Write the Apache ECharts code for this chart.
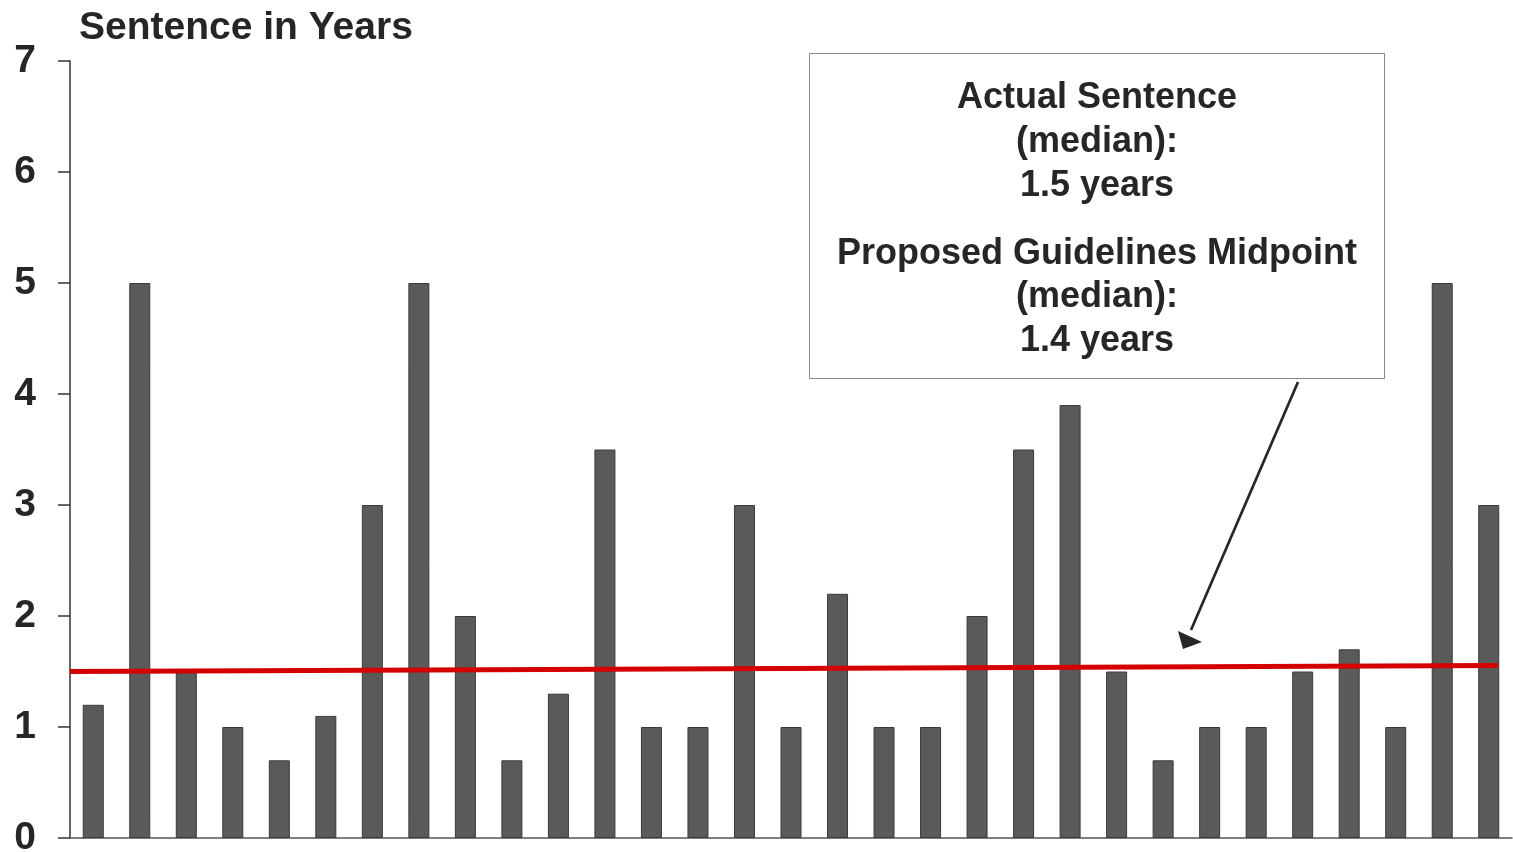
<!DOCTYPE html>
<html>
<head>
<meta charset="utf-8">
<script src="https://cdn.jsdelivr.net/npm/echarts@6/dist/echarts.min.js"></script>
<style>
html,body{margin:0;padding:0;background:#fff;}
#chart{width:1513px;height:852px;}
</style>
</head>
<body>
<div id="chart"></div>
<script>
// Data
const categories = ['1','2','3','4','5','6','7','8','9','10','11','12','13','14','15','16','17','18','19','20','21','22','23','24','25','26','27','28','29','30','31'];
const sentences = [1.2, 5, 1.5, 1, 0.7, 1.1, 3, 5, 2, 0.7, 1.3, 3.5, 1, 1, 3, 1, 2.2, 1, 1, 2, 3.5, 3.9, 1.5, 0.7, 1, 1, 1.5, 1.7, 1, 5, 3];
const guidelineLine = [[0, 1.5], [30.69, 1.555]];
const yTicks = [0, 1, 2, 3, 4, 5, 6, 7];
const boxText1 = ['Actual Sentence', '(median):', '1.5 years'];
const boxText2 = ['Proposed Guidelines Midpoint', '(median):', '1.4 years'];

const FONT = '"Liberation Sans", Arial, Helvetica, sans-serif';
const chart = echarts.init(document.getElementById('chart'));

chart.setOption({
  animation: false,
  backgroundColor: '#ffffff',
  title: {
    text: 'Sentence in Years',
    left: 74, top: 4,
    textStyle: { fontFamily: FONT, fontWeight: 'bold', fontSize: 39, color: '#262626' }
  },
  grid: { left: 70, right: 1, top: 61, bottom: 14, containLabel: false, outerBoundsMode: 'none' },
  xAxis: [{
    type: 'category',
    data: categories,
    boundaryGap: true,
    axisLine: { show: true, lineStyle: { color: '#555', width: 1.5 } },
    axisTick: { show: false },
    axisLabel: { show: false },
    splitLine: { show: false }
  }, {
    type: 'value',
    min: 0, max: categories.length,
    show: false
  }],
  yAxis: {
    type: 'value',
    min: yTicks[0], max: yTicks[yTicks.length - 1], interval: 1,
    axisLine: { show: true, lineStyle: { color: '#333', width: 1.5 } },
    axisTick: { show: true, inside: false, length: 12, lineStyle: { color: '#333', width: 1.5 } },
    axisLabel: { margin: 34, fontFamily: FONT, fontWeight: 'bold', fontSize: 39, color: '#262626', align: 'right' },
    splitLine: { show: false }
  },
  series: [{
    type: 'bar',
    data: sentences,
    xAxisIndex: 0,
    barWidth: 21,
    itemStyle: { color: '#5a5a5a', borderColor: '#3a3a3a', borderWidth: 1 },
    z: 2
  }, {
    type: 'line',
    data: guidelineLine,
    xAxisIndex: 1,
    showSymbol: false,
    symbol: 'none',
    lineStyle: { color: '#d40000', width: 5 },
    z: 3
  }],
  graphic: [
    {
      type: 'rect',
      shape: { x: 809.5, y: 53.5, width: 575, height: 325 },
      style: { fill: '#ffffff', stroke: '#888888', lineWidth: 1 },
      z: 10
    },
    {
      type: 'text',
      x: 1097, y: 142,
      style: {
        text: boxText1.join('\n'),
        font: 'bold 36px ' + FONT,
        fill: '#262626',
        align: 'center', verticalAlign: 'middle',
        lineHeight: 44
      },
      z: 11
    },
    {
      type: 'text',
      x: 1097, y: 297.5,
      style: {
        text: boxText2.join('\n'),
        font: 'bold 36px ' + FONT,
        fill: '#262626',
        align: 'center', verticalAlign: 'middle',
        lineHeight: 43.5
      },
      z: 11
    },
    {
      type: 'line',
      shape: { x1: 1298, y1: 382, x2: 1191, y2: 630 },
      style: { stroke: '#262626', lineWidth: 2.7 },
      z: 12
    },
    {
      type: 'polygon',
      shape: { points: [[1183, 649], [1178, 631], [1202, 642]] },
      style: { fill: '#262626' },
      z: 12
    }
  ]
});
</script>
</body>
</html>
